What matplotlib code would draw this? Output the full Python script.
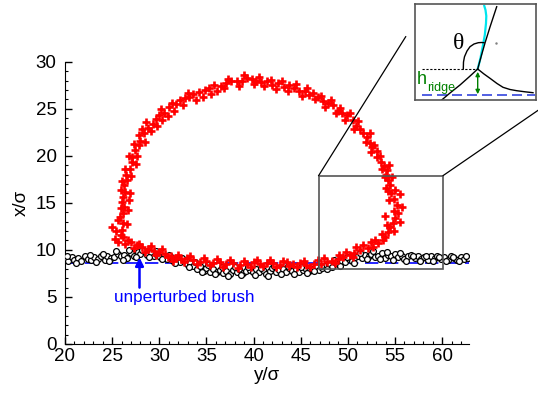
import matplotlib
matplotlib.use("Agg")
import matplotlib.pyplot as plt
from matplotlib.patches import Rectangle
from matplotlib.lines import Line2D

plt.rcParams['font.family'] = ['Liberation Sans', 'DejaVu Sans']

# ---------------- data ----------------
# droplet contour (red +)
drop_x = [25.0,25.3,25.6,25.9,26.0,26.1,25.8,26.1,26.3,26.0,26.1,26.4,26.3,26.6,26.5,26.9,27.1,27.1,27.4,27.8,
          28.0,28.4,28.2,28.8,29.3,29.6,30.0,30.5,31.0,31.3,31.8,32.2,32.7,33.2,33.6,34.2,34.8,35.3,35.8,36.5,
          37.1,37.6,38.2,38.8,39.3,39.8,40.3,40.8,41.4,42.0,42.6,43.2,43.8,44.3,44.8,45.4,45.9,46.3,46.8,47.4,
          47.9,48.4,48.9,49.4,49.9,50.5,50.9,51.3,51.6,52.0,52.3,52.6,53.1,53.1,53.5,53.8,54.1,54.0,54.3,54.5,
          54.3,54.6,54.9,55.2,55.3,54.9,55.0,54.8,54.5,54.2,53.9,53.7,53.2,52.7,52.1,51.3,50.7,50.2,49.5,48.9,
          48.3,47.8,47.1,46.4,45.6,44.9,44.2,43.5,42.8,42.1,41.4,40.7,40.0,39.3,38.6,37.8,37.1,36.4,35.7,35.0,
          34.3,33.6,32.9,32.3,31.8,31.2,30.6,30.0,29.4,28.8,28.2,27.6,27.0,26.4,
          26.6,25.6,26.7,25.9,26.8,26.9,25.9,26.0,27.0,26.4,27.5,26.8,27.6,27.3,28.5,27.8,28.6,29.1,29.8,30.3,
          30.2,30.9,31.6,32.5,33.0,33.9,34.6,35.5,36.1,36.9,37.3,38.5,39.0,40.0,40.6,41.1,41.8,42.4,43.0,43.6,
          44.5,45.1,45.7,46.5,47.2,47.6,48.2,48.7,49.2,49.7,50.2,50.7,51.1,51.9,52.3,52.5,52.8,53.4,53.6,54.4,
          53.9,54.7,54.0,55.0,55.5,55.7,54.4,53.9,55.5,54.1,54.9,53.6,52.9,52.4,51.6,50.9,50.5,49.8,49.1,48.6,
          47.5,46.8,46.0,45.3,44.6,43.8,43.1,42.4,41.7,41.0,40.4,39.7,39.0,38.3,37.5,36.8,36.1,35.4,34.7,34.0,
          33.3,32.6,32.0,31.5,30.9,30.3,29.7,29.1,28.5,27.9,27.3,26.7,25.4,26.2]
drop_y = [12.4,11.2,10.8,11.6,12.1,12.9,13.5,13.9,14.6,15.1,15.6,16.2,16.9,17.4,18.0,18.6,19.3,19.9,20.6,21.2,
          21.6,22.4,22.9,23.0,23.4,23.9,24.3,24.6,25.2,25.6,25.5,25.9,26.1,26.2,26.6,26.8,27.0,27.2,27.5,27.4,
          27.7,27.9,28.0,27.9,28.3,28.2,28.0,27.8,27.9,27.5,27.7,27.3,27.5,27.2,26.9,26.9,26.5,26.7,26.2,25.8,
          25.6,25.4,24.8,24.5,24.3,23.8,23.2,22.8,22.4,22.0,21.4,20.9,20.5,19.9,19.3,18.9,18.5,18.0,17.4,16.9,
          16.3,16.0,15.4,14.8,13.9,14.1,13.4,12.9,12.4,11.9,11.4,11.0,10.7,10.3,10.2,10.0,9.7,9.5,9.2,9.0,
          8.8,8.7,8.5,8.5,8.4,8.6,8.5,8.7,8.4,8.6,8.6,8.5,8.7,8.5,8.4,8.6,8.5,8.7,8.6,8.8,
          8.7,8.9,9.1,9.0,9.1,9.4,9.6,9.8,9.9,10.1,10.3,10.5,10.8,10.6,
          12.8,13.2,14.2,14.4,15.3,16.0,16.4,17.3,17.9,18.6,19.1,20.0,20.0,21.3,21.5,22.2,23.6,22.6,23.2,23.8,
          25.0,24.2,24.8,25.4,26.7,25.9,26.3,26.6,26.9,27.2,28.2,27.4,28.6,27.6,28.4,27.4,28.1,27.1,27.9,26.9,
          27.6,26.4,27.2,26.0,26.4,25.2,25.9,24.5,25.1,23.8,24.6,22.9,23.7,21.5,22.4,20.4,21.1,20.0,18.6,19.0,
          17.8,17.7,16.6,16.4,15.9,14.6,15.3,13.6,13.0,12.6,12.0,11.7,11.1,10.8,10.5,10.3,9.2,9.8,9.5,8.6,
          9.1,8.9,8.2,8.8,8.2,8.3,8.8,8.2,8.9,8.3,8.9,8.2,8.8,8.1,8.9,8.2,9.0,8.4,9.1,8.5,
          9.4,8.7,9.5,8.8,9.2,10.1,9.5,10.4,9.8,10.6,10.2,11.1,12.0,11.4]

# brush (open black circles)
brush_x = [20.0,20.3,20.7,21.0,21.4,21.7,22.1,22.4,22.8,23.1,
           23.5,23.8,24.2,24.5,24.9,25.2,25.6,25.9,26.3,26.6,
           27.0,27.3,27.7,28.0,28.4,28.7,29.1,29.4,29.8,30.1,
           30.5,30.8,31.2,31.5,31.9,32.2,32.6,32.9,33.3,33.6,
           34.0,34.3,34.7,35.0,35.4,35.7,36.1,36.4,36.8,37.1,
           37.5,37.8,38.2,38.5,38.9,39.2,39.6,39.9,40.3,40.6,
           41.0,41.3,41.7,42.0,42.4,42.7,43.1,43.4,43.8,44.1,
           44.5,44.8,45.2,45.5,45.9,46.2,46.6,46.9,47.3,47.6,
           48.0,48.3,48.7,49.0,49.4,49.7,50.1,50.4,50.8,51.1,
           51.5,51.8,52.2,52.5,52.9,53.2,53.6,53.9,54.3,54.6,
           55.0,55.3,55.7,56.0,56.4,56.7,57.1,57.4,57.8,58.1,
           58.5,58.8,59.2,59.5,59.9,60.2,60.6,60.9,61.3,61.6,
           62.0,62.3,62.7,
           20.2,21.2,22.6,23.3,24.0,24.7,25.4,26.1,26.8,27.5,
           28.2,28.9,29.6,30.3,31.0,31.7,32.4,33.1,33.8,34.5,
           35.2,35.9,36.6,37.3,38.0,38.7,39.4,40.1,40.8,41.5,
           42.2,42.9,43.6,44.3,45.0,45.7,46.4,47.1,47.8,48.5,
           49.2,49.9,50.6,51.3,52.0,52.7,53.4,54.1,54.8,55.5,
           56.2,56.9,57.6,58.3,59.0,59.7,60.4,61.1,61.8,62.5]
brush_y = [9.0,8.8,9.2,8.9,9.1,8.8,9.3,9.0,8.9,9.2,
           9.0,9.3,8.9,9.4,9.1,9.2,9.6,9.3,9.5,9.1,
           9.7,9.4,9.8,9.6,9.9,9.5,9.7,9.3,9.5,9.2,
           9.4,9.0,9.2,8.8,9.0,8.7,8.9,8.5,8.6,8.3,
           8.0,8.3,7.8,8.1,7.7,8.0,7.6,7.9,7.5,7.8,
           7.4,7.9,7.7,8.0,7.5,7.8,7.9,7.6,8.0,7.7,
           7.9,7.4,7.8,8.1,7.6,7.9,8.0,7.7,8.1,7.8,
           8.0,7.6,7.9,8.1,7.8,8.0,8.2,7.9,8.1,8.3,
           8.4,8.2,8.6,8.5,8.8,8.7,9.0,8.8,9.2,9.4,
           9.1,9.5,9.3,9.6,9.2,9.4,9.7,9.1,9.5,9.3,
           9.6,9.2,9.4,9.0,9.3,9.5,9.1,9.4,9.0,9.2,
           8.9,9.3,9.1,9.4,9.0,9.2,8.9,9.3,9.1,8.9,
           9.2,9.0,9.1,
           9.4,8.6,9.5,8.7,9.6,8.8,9.9,8.9,10.0,9.2,
           10.0,9.2,9.9,9.0,9.5,8.6,9.1,8.2,8.7,7.6,
           8.4,7.4,8.2,7.2,8.2,7.3,8.2,7.3,8.1,7.2,
           8.3,7.4,8.3,7.4,8.2,7.5,7.8,8.3,8.0,8.9,
           8.3,9.2,8.6,9.7,9.0,9.9,9.0,9.8,8.9,9.7,
           8.8,9.3,8.8,9.4,8.8,9.2,8.8,9.2,8.8,9.3]

unperturbed_level = 8.6
x_ticks = [20, 25, 30, 35, 40, 45, 50, 55, 60]
y_ticks = [0, 5, 10, 15, 20, 25, 30]

# inset schematic (drawn in inset pixel coordinates)
sk_left_x = [441.7, 450, 460, 469, 477.7]
sk_left_y = [100, 93, 85, 77, 69]
sk_up_x = [477.7, 481, 485, 490, 496.7]
sk_up_y = [69, 57, 43, 27, 6.7]
sk_right_x = [477.7, 484, 490, 497, 503, 510, 516.7, 525, 533]
sk_right_y = [69, 74, 78.3, 83.5, 87.3, 89.5, 90.7, 91.8, 92.7]
sk_cyan_x = [477.7, 480.5, 482.7, 484.8, 486.0, 486.3, 485.5, 484.3]
sk_cyan_y = [69, 58, 46.7, 35, 23.3, 16, 10, 6]
sk_arc_x = [463.3, 463.5, 464.5, 467, 470, 474, 478.3, 481.5, 484]
sk_arc_y = [69, 62, 56.7, 51, 46.7, 44, 42.7, 42.5, 42.7]

# ---------------- figure ----------------
fig = plt.figure(figsize=(5.38, 3.99), dpi=100)
ax = fig.add_axes([65/538, 1-344/399, 403.6/538, 282.3/399])

ax.plot(brush_x, brush_y, linestyle='none', marker='o', markersize=4.2,
        markerfacecolor='white', markeredgecolor='black', markeredgewidth=0.9, zorder=3)
ax.plot(drop_x, drop_y, linestyle='none', marker='+', markersize=5.5,
        color='red', markeredgewidth=1.9, zorder=4)
ax.axhline(unperturbed_level, color='blue', lw=1.2, dashes=(8, 4), zorder=2)

ax.set_xlim(20, 62.8)
ax.set_ylim(0, 30)
ax.set_xticks(x_ticks)
ax.set_yticks(y_ticks)
ax.set_xticks(range(20, 63), minor=True)
ax.set_yticks(range(0, 31), minor=True)
ax.tick_params(which='major', direction='in', length=5, width=1, labelsize=13.5)
ax.tick_params(axis='y', which='major', pad=6)
ax.tick_params(axis='x', which='major', pad=3)
ax.tick_params(which='minor', direction='in', length=2.5, width=0.8)
ax.spines['top'].set_visible(False)
ax.spines['right'].set_visible(False)
ax.set_xlabel('y/σ', fontsize=13.5, labelpad=1)
ax.set_ylabel('x/σ', fontsize=13.5, labelpad=4)

# arrow and annotation
ax.annotate('', xy=(27.9, 9.5), xytext=(27.9, 5.7),
            arrowprops=dict(arrowstyle='-|>', color='blue', lw=1.8, mutation_scale=12), zorder=5)
ax.text(32.6, 4.9, 'unperturbed brush', color='blue', fontsize=12.3, ha='center', va='center')

# zoom rectangle
ax.add_patch(Rectangle((46.9, 8.0), 13.2, 9.9, fill=False, edgecolor='#555555', lw=1.2, zorder=6))

# connector lines (figure pixel coordinates)
def fpx(x, y):
    return (x/538, 1-y/399)

def data_to_fig(x, y):
    d = ax.transData.transform((x, y))
    return fig.transFigure.inverted().transform(d)

p1 = data_to_fig(46.9, 17.9)
p2 = data_to_fig(60.1, 17.9)
q1 = fpx(405.7, 36.7)
q2 = fpx(540, 109)
fig.add_artist(Line2D([p1[0], q1[0]], [p1[1], q1[1]], color='black', lw=0.9, transform=fig.transFigure))
fig.add_artist(Line2D([p2[0], q2[0]], [p2[1], q2[1]], color='black', lw=0.9, transform=fig.transFigure))

# inset schematic
ins = fig.add_axes([415/538, 1-100/399, 121/538, 96/399])
ins.set_xlim(415, 536)
ins.set_ylim(100, 4)
ins.set_xticks([]); ins.set_yticks([])
for s in ins.spines.values():
    s.set_edgecolor('#555555'); s.set_linewidth(1.2)
ins.plot([421.7, 477.7], [69, 69], color='black', lw=0.8, dashes=(2, 1.5))
ins.plot([421.7, 535], [95, 95], color='#3344dd', lw=1.2, dashes=(6, 3))
ins.plot(sk_cyan_x, sk_cyan_y, color='#00e5ee', lw=1.6)
ins.plot(sk_left_x, sk_left_y, color='black', lw=1.0)
ins.plot(sk_up_x, sk_up_y, color='black', lw=1.0)
ins.plot(sk_right_x, sk_right_y, color='black', lw=1.0)
ins.plot(sk_arc_x, sk_arc_y, color='black', lw=1.0)
ins.plot([496], [42.7], marker='.', markersize=1.5, color='gray')
ins.annotate('', xy=(477.7, 97), xytext=(477.7, 69),
             arrowprops=dict(arrowstyle='<|-|>', color='green', lw=1.0, mutation_scale=6))
ins.text(458.3, 43.5, 'θ', fontsize=17, family=['Liberation Serif', 'DejaVu Serif'],
         ha='center', va='center')
ins.text(417, 80, 'h', fontsize=13, color='green', ha='left', va='center')
ins.text(427, 87.5, 'ridge', fontsize=9, color='green', ha='left', va='center')

fig.savefig('out.png', dpi=100)
